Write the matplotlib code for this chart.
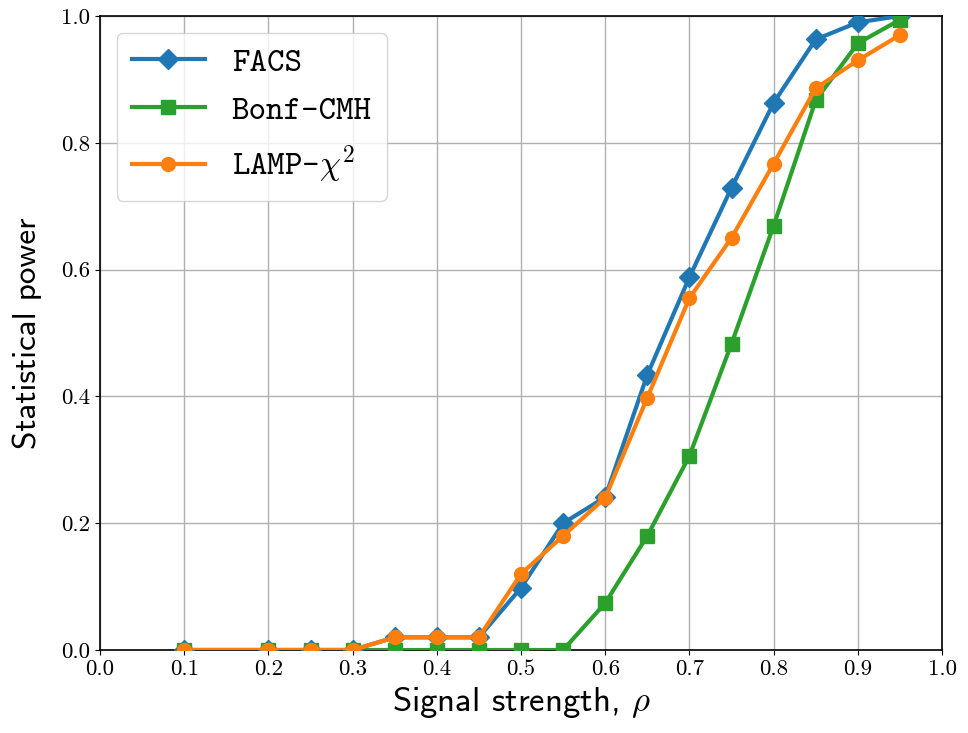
import matplotlib
matplotlib.use("Agg")
import matplotlib.pyplot as plt

rho = [0.1, 0.2, 0.25, 0.3, 0.35, 0.4, 0.45, 0.5, 0.55, 0.6, 0.65, 0.7, 0.75, 0.8, 0.85, 0.9, 0.95]
facs = [0, 0, 0, 0, 0.02, 0.02, 0.02, 0.098, 0.20, 0.241, 0.434, 0.588, 0.729, 0.863, 0.963, 0.99, 1.0]
bonf = [0, 0, 0, 0, 0, 0, 0, 0, 0, 0.074, 0.18, 0.306, 0.483, 0.669, 0.867, 0.957, 0.994]
lamp = [0, 0, 0, 0, 0.02, 0.02, 0.02, 0.12, 0.18, 0.24, 0.398, 0.555, 0.65, 0.767, 0.886, 0.93, 0.97]
xticks = [0.0, 0.1, 0.2, 0.3, 0.4, 0.5, 0.6, 0.7, 0.8, 0.9, 1.0]
yticks = [0.0, 0.2, 0.4, 0.6, 0.8, 1.0]

plt.rcParams['mathtext.fontset'] = 'cm'
plt.rcParams['axes.formatter.use_mathtext'] = True

fig = plt.figure(figsize=(9.68, 7.33), dpi=100)
ax = fig.add_axes([100/968, 83/733, 842/968, 634/733])

ax.plot(rho, facs, color='#1f77b4', marker='D', lw=3, ms=10, label=r'FACS', zorder=3)
ax.plot(rho, bonf, color='#2ca02c', marker='s', lw=3, ms=10, label=r'Bonf-CMH', zorder=3)
ax.plot(rho, lamp, color='#ff7f0e', marker='o', lw=3, ms=10, label='LAMP-$\\chi^2$', zorder=3)

ax.set_xlim(0, 1)
ax.set_ylim(0, 1)
ax.set_xticks(xticks)
ax.set_yticks(yticks)
ax.set_xticklabels([f"{t:.1f}" for t in xticks], family='cmr10', fontsize=16.5)
ax.set_yticklabels([f"{t:.1f}" for t in yticks], family='cmr10', fontsize=16.5)
ax.grid(True, color='#b0b0b0', lw=1)
ax.set_axisbelow(True)
ax.set_xlabel(r'Signal strength, $\rho$', family='cmss10', fontsize=25, labelpad=4)
ax.set_ylabel('Statistical power', family='cmss10', fontsize=24, labelpad=14)
for sp in ax.spines.values():
    sp.set_linewidth(1.2)

leg = ax.legend(loc='upper left', prop={'family': 'cmtt10', 'size': 24}, handlelength=2.2,
                handletextpad=0.8, borderpad=0.45, labelspacing=0.5, fancybox=True,
                framealpha=0.8, borderaxespad=0.5)
fig.savefig('out.png', dpi=100)
